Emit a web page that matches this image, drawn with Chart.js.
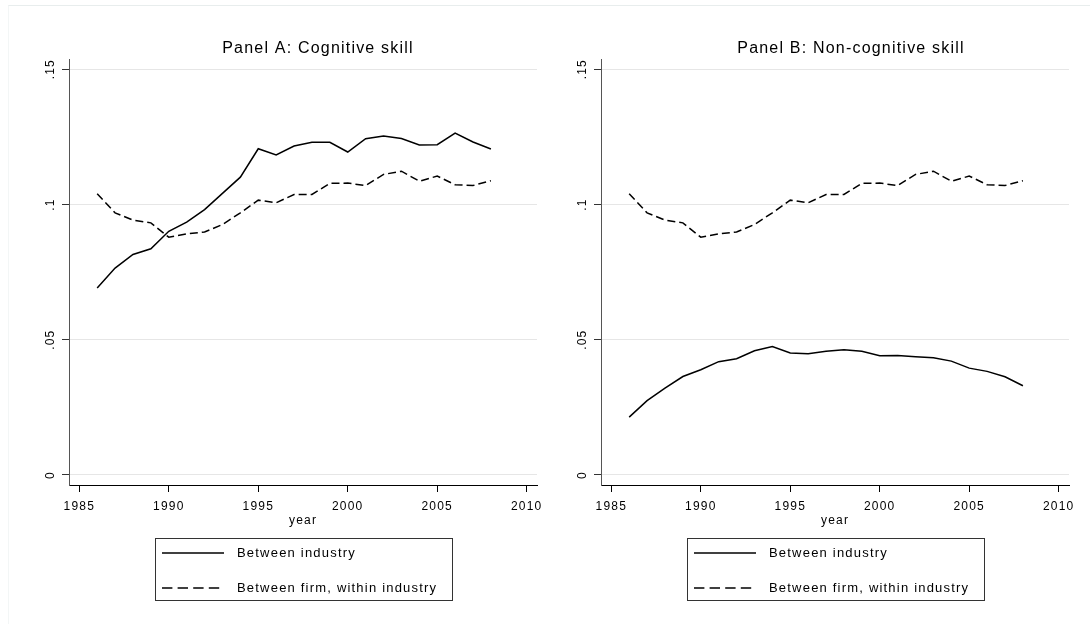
<!DOCTYPE html>
<html>
<head>
<meta charset="utf-8">
<script src="https://cdn.jsdelivr.net/npm/chart.js@4.4.1/dist/chart.umd.min.js"></script>
<style>
  html, body { margin: 0; padding: 0; background: #fff; width: 1090px; height: 624px; overflow: hidden; }
  #frame { position: absolute; left: 8px; top: 5px; right: 0; bottom: 0; border-top: 1px solid #e8eded; border-left: 1px solid #f3f6f6; }
  .panel { position: absolute; top: 0; }
  #panelA { left: 0; }
  #panelB { left: 532px; }
</style>
</head>
<body>
<div id="frame"></div>
<div class="panel" id="panelA"><canvas id="chartA" width="636" height="624"></canvas></div>
<div class="panel" id="panelB"><canvas id="chartB" width="638" height="624"></canvas></div>
<script>
// ── Data ─────────────────────────────────────────────────────
const years = [1986, 1987, 1988, 1989, 1990, 1991, 1992, 1993, 1994, 1995, 1996, 1997,
               1998, 1999, 2000, 2001, 2002, 2003, 2004, 2005, 2006, 2007, 2008];

const cogBetweenIndustry = [0.0691, 0.0765, 0.0815, 0.0836, 0.0901, 0.0935, 0.0981, 0.1041,
                            0.1101, 0.1206, 0.1183, 0.1216, 0.1230, 0.1230, 0.1194, 0.1243,
                            0.1253, 0.1244, 0.1220, 0.1221, 0.1264, 0.1231, 0.1205];
const cogBetweenFirm     = [0.1040, 0.0969, 0.0942, 0.0932, 0.0879, 0.0891, 0.0898, 0.0926,
                            0.0969, 0.1016, 0.1006, 0.1037, 0.1037, 0.1078, 0.1079, 0.1070,
                            0.1111, 0.1123, 0.1086, 0.1105, 0.1073, 0.1070, 0.1088];

const noncogBetweenIndustry = [0.0214, 0.0275, 0.0321, 0.0364, 0.0389, 0.0419, 0.0430, 0.0459,
                               0.0475, 0.0451, 0.0448, 0.0457, 0.0463, 0.0457, 0.0441, 0.0442,
                               0.0437, 0.0433, 0.0421, 0.0395, 0.0383, 0.0363, 0.0330];
const noncogBetweenFirm     = [0.1040, 0.0969, 0.0942, 0.0932, 0.0879, 0.0891, 0.0898, 0.0926,
                               0.0969, 0.1016, 0.1006, 0.1037, 0.1037, 0.1078, 0.1079, 0.1070,
                               0.1111, 0.1123, 0.1086, 0.1105, 0.1073, 0.1070, 0.1088];

const seriesLabels = ['Between industry', 'Between firm, within industry'];
const panelTitles  = ['Panel A: Cognitive skill', 'Panel B: Non-cognitive skill'];
const xTickStep = 5;     // 1985 … 2010
const yTickStep = 0.05;  // 0 … .15

const FONT = '"Liberation Sans", Arial, Helvetica, sans-serif';

// ── Plugins ──────────────────────────────────────────────────
// Stata-ish loose letter spacing for all text
const textSpacing = {
    id: 'textSpacing',
    beforeDraw(chart) { chart.ctx.letterSpacing = '1.2px'; }
};

// Boxed, stacked legend under the x-axis title
const boxedLegend = {
    id: 'boxedLegend',
    afterDraw(chart) {
        const { ctx, chartArea } = chart;
        const w = 297, h = 62;
        const left = Math.round((chartArea.left + chartArea.right) / 2 - w / 2);
        const top  = 538;
        const rowY = [15, 50];

        ctx.save();
        ctx.strokeStyle = '#333';
        ctx.lineWidth   = 1;
        ctx.strokeRect(left + 0.5, top + 0.5, w, h);

        chart.data.datasets.forEach((ds, i) => {
            const y = top + rowY[i];
            ctx.beginPath();
            ctx.setLineDash(ds.borderDash ? ds.borderDash.map(d => d * 1.3) : []);
            ctx.lineWidth   = ds.borderWidth;
            ctx.strokeStyle = ds.borderColor;
            ctx.moveTo(left + 7, y);
            ctx.lineTo(left + 69, y);
            ctx.stroke();
            ctx.setLineDash([]);

            ctx.fillStyle    = '#000';
            ctx.font         = '13px ' + FONT;
            ctx.textBaseline = 'middle';
            ctx.textAlign    = 'left';
            ctx.fillText(ds.label, left + 82, y);
        });
        ctx.restore();
    }
};

const toPoints = (vals) => years.map((yr, i) => ({ x: yr, y: vals[i] }));

const fmtY = (v) => v === 0 ? '0' : String(+v.toFixed(2)).replace(/^0/, '');

function makePanel(canvasId, title, industry, firm) {
    const canvas = document.getElementById(canvasId);
    // empty space right of the plot, so the title centres a bit right of the plot region
    const rightGap = canvas.width - 537;
    return new Chart(canvas.getContext('2d'), {
        type: 'line',
        data: {
            datasets: [
                {
                    label: seriesLabels[0],
                    data: toPoints(industry),
                    borderColor: '#000',
                    borderWidth: 1.5,
                    pointRadius: 0,
                    tension: 0,
                    fill: false
                },
                {
                    label: seriesLabels[1],
                    data: toPoints(firm),
                    borderColor: '#000',
                    borderWidth: 1.5,
                    borderDash: [8, 4],
                    pointRadius: 0,
                    tension: 0,
                    fill: false
                }
            ]
        },
        options: {
            responsive: false,
            animation: false,
            layout: { padding: { left: 0, top: 0, right: 0, bottom: 96 } },
            plugins: {
                legend: { display: false },
                tooltip: { enabled: false },
                title: {
                    display: true,
                    text: title,
                    color: '#000',
                    font: { family: FONT, size: 16, weight: 'normal' },
                    padding: { top: 39, bottom: 1 }
                }
            },
            scales: {
                x: {
                    type: 'linear',
                    min: 1984.425,
                    max: 2010.575,
                    afterFit: (s) => { s.height = 43; },
                    ticks: {
                        stepSize: xTickStep,
                        includeBounds: false,
                        autoSkip: false,
                        maxRotation: 0,
                        padding: 7,
                        color: '#000',
                        font: { family: FONT, size: 12 },
                        callback: (v) => String(v)
                    },
                    grid: { drawOnChartArea: false, drawTicks: true, tickLength: 7, tickColor: '#000' },
                    border: { color: '#000', width: 1 },
                    title: {
                        display: true,
                        text: 'year',
                        color: '#000',
                        font: { family: FONT, size: 12 },
                        padding: 0
                    }
                },
                y: {
                    type: 'linear',
                    min: -0.0037,
                    max: 0.1537,
                    afterFit: (s) => { s.width = 69; },
                    ticks: {
                        stepSize: yTickStep,
                        includeBounds: false,
                        minRotation: 90,
                        maxRotation: 90,
                        crossAlign: 'center',
                        padding: 3,
                        color: '#000',
                        font: { family: FONT, size: 12 },
                        callback: fmtY
                    },
                    grid: { color: '#e6e6e6', lineWidth: 1, drawTicks: true, tickLength: 7, tickColor: '#333' },
                    border: { color: '#555', width: 1 }
                },
                gap: {
                    type: 'linear',
                    position: 'right',
                    afterFit: (s) => { s.width = rightGap; },
                    ticks: { display: false },
                    grid: { display: false, drawTicks: false },
                    border: { display: false }
                }
            }
        },
        plugins: [textSpacing, boxedLegend]
    });
}

document.addEventListener('DOMContentLoaded', () => {
    makePanel('chartA', panelTitles[0], cogBetweenIndustry, cogBetweenFirm);
    makePanel('chartB', panelTitles[1], noncogBetweenIndustry, noncogBetweenFirm);
});
</script>
</body>
</html>
